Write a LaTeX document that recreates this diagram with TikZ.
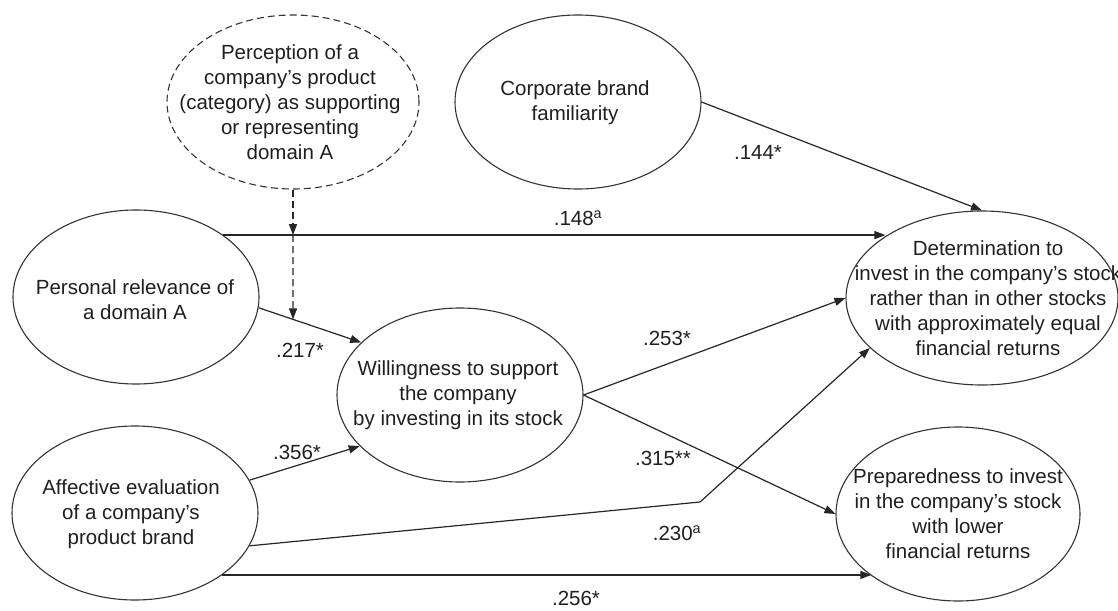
\documentclass[tikz,border=0pt]{standalone}
\usepackage{fontspec}
\setmainfont{Liberation Sans}
\usetikzlibrary{shapes.geometric,arrows.meta,calc}
\begin{document}
\begin{tikzpicture}[x=1pt,y=-1pt,
  every node/.style={font=\fontsize{20.5}{25}\selectfont, text=black!88},
  latent/.style={draw=black!80, line width=1.1pt, ellipse, inner sep=0pt, minimum width=246pt, minimum height=174pt},
  txt/.style={align=center, inner sep=0pt},
  conn/.style={draw=black!85, line width=1.2pt, -{Triangle[length=11pt,width=8pt]}},
  dashline/.style={dash pattern=on 7pt off 4pt},
  lbl/.style={inner sep=0pt}
]
\useasboundingbox (0,0) rectangle (1118,610);
\clip (0,0) rectangle (1118,610);

% ellipses
\node[latent, dashline, minimum width=252pt] (dash) at (293,102) {};
\node[txt] (dasht) at (290,102) {Perception of a\\company's product\\(category) as supporting\\or representing\\domain A};

\node[latent] (corp) at (578,102) {};
\node[txt] (corpt) at (575,103) {Corporate brand\\familiarity};

\node[latent] (pers) at (136,297) {};
\node[txt] (perst) at (135,300) {Personal relevance of\\a domain A};

\node[latent] (will) at (460,395) {};
\node[txt] (willt) at (458,395) {Willingness to support\\the company\\by investing in its stock};

\node[latent] (aff) at (135,513) {};
\node[txt] (afft) at (131,514) {Affective evaluation\\of a company's\\product brand};

\node[latent, minimum width=272pt] (det) at (982,298) {};
\node[txt] (dett) at (988,298) {Determination to\\invest in the company's stock\\rather than in other stocks\\with approximately equal\\financial returns};

\node[latent, minimum width=244pt] (prep) at (958,514) {};
\node[txt] (prept) at (958,514) {Preparedness to invest\\in the company's stock\\with lower\\financial returns};

% connectors
\draw[conn] (corp.east) -- (det.north);
\draw[conn] (pers.north east) -- (pers.north east -| det.north west);
\coordinate (p1) at (pers.-5);
\coordinate (w1) at (will.152);
\draw[conn] (p1) -- (w1);
\draw[conn] (aff.16) -- (will.207);
\draw[conn] (will.east) -- (det.west);
\draw[conn] (will.east) -- (prep.west);
\coordinate (bend) at (700,502);
\draw[conn] (aff.-16) -- (bend) -- (det.204);
\draw[conn] (aff.south east) -- (aff.south east -| prep.south west);

\coordinate (m1) at (dash.south |- pers.north east);
\coordinate (m2) at (intersection of p1--w1 and dash.south--m1);
\draw[conn, dashline] (dash.south) -- (m1);
\draw[conn, dashline] (m1) -- (m2);

% labels
\node[lbl] (l144) at (758,152) {.144*};
\node[lbl] (l148) at (578,218) {.148\textsuperscript{a}};
\node[lbl] (l217) at (300,350) {.217*};
\node[lbl] (l356) at (297,452) {.356*};
\node[lbl] (l253) at (667,338) {.253*};
\node[lbl] (l315) at (663,458) {.315**};
\node[lbl] (l230) at (677,533) {.230\textsuperscript{a}};
\node[lbl] (l256) at (576,598) {.256*};
\end{tikzpicture}
\end{document}
